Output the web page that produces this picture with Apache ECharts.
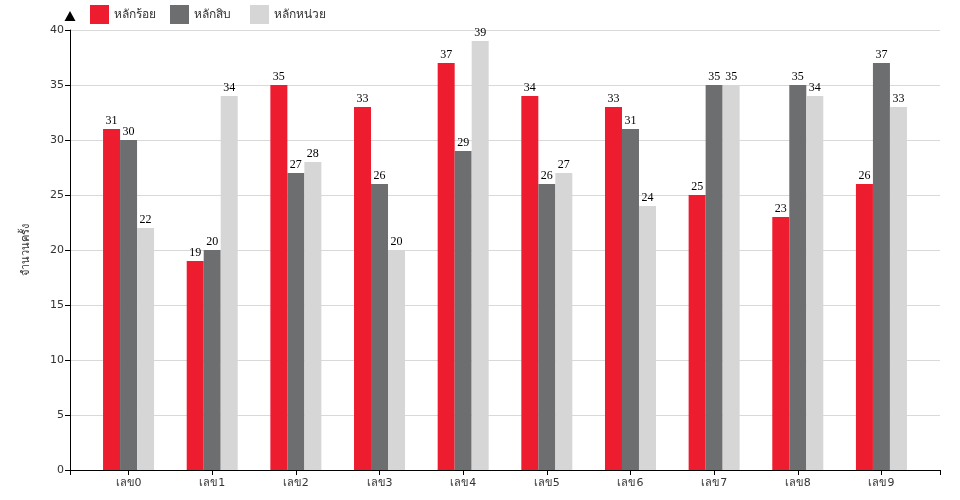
<!DOCTYPE html>
<html><head><meta charset="utf-8">
<script src="https://cdn.jsdelivr.net/npm/echarts@6/dist/echarts.min.js"></script>
<style>html,body{margin:0;padding:0;background:#fff}#c{width:960px;height:500px}</style>
</head><body><div id="c"></div>
<script>
const categories = ['เลข0','เลข1','เลข2','เลข3','เลข4','เลข5','เลข6','เลข7','เลข8','เลข9'];
const hundreds = [31,19,35,33,37,34,33,25,23,26];
const tens     = [30,20,27,26,29,26,31,35,35,37];
const units    = [22,34,28,20,39,27,24,35,34,33];
const seriesNames = ['หลักร้อย','หลักสิบ','หลักหน่วย'];
const yTicks = [0,5,10,15,20,25,30,35,40];
const colors = ['#ED1C2E','#6D6E70','#D6D6D6'];

const idx = categories.map((c,i)=>i);
const chart = echarts.init(document.getElementById('c'), null, {renderer:'canvas'});
const mk = (name, vals, color) => ({
  name, type:'bar', barWidth:17, barGap:'0%',
  itemStyle:{color},
  data: vals.map((v,i)=>[i,v]),
  label:{show:true, position:'top', distance:2, color:'#000', fontFamily:'Liberation Serif, serif', fontSize:12}
});
const legends = seriesNames.map((n,i)=>({left:90+80*i, top:5, padding:0, itemWidth:19, itemHeight:19, icon:'rect',
    textStyle:{fontSize:12, color:'#333', fontFamily:'DejaVu Sans, sans-serif'}, data:[n]}));
chart.setOption({
  animation:false,
  color:colors,
  legend:legends,
  grid:{left:70, right:20, top:30, bottom:30},
  xAxis:{type:'value', min:-0.7, max:9.7,
    axisLine:{show:true, onZero:false, lineStyle:{color:'#000'}},
    splitLine:{show:false},
    axisTick:{show:true, length:5, lineStyle:{color:'#000'}, customValues:[-0.7].concat(idx).concat([9.7])},
    axisLabel:{customValues:idx, formatter:v=>categories[Math.round(v)], color:'#333', fontSize:11, margin:8,
      fontFamily:'DejaVu Sans, sans-serif'}
  },
  yAxis:{type:'value', min:0, max:40, interval:5,
    name:'จำนวนครั้ง', nameLocation:'middle', nameGap:38, nameRotate:90,
    nameTextStyle:{color:'#333', fontSize:11, fontFamily:'DejaVu Sans, sans-serif'},
    axisLine:{show:true, onZero:false, lineStyle:{color:'#000'}, symbol:['none','triangle'], symbolSize:[11,10], symbolOffset:[0,14]},
    axisTick:{show:true, length:5, lineStyle:{color:'#000'}},
    axisLabel:{color:'#333', fontSize:11, margin:6, fontFamily:'DejaVu Sans, sans-serif'},
    splitLine:{show:true, lineStyle:{color:'#d9d9d9'}}
  },
  series:[mk(seriesNames[0],hundreds,colors[0]), mk(seriesNames[1],tens,colors[1]), mk(seriesNames[2],units,colors[2])]
});
</script></body></html>
